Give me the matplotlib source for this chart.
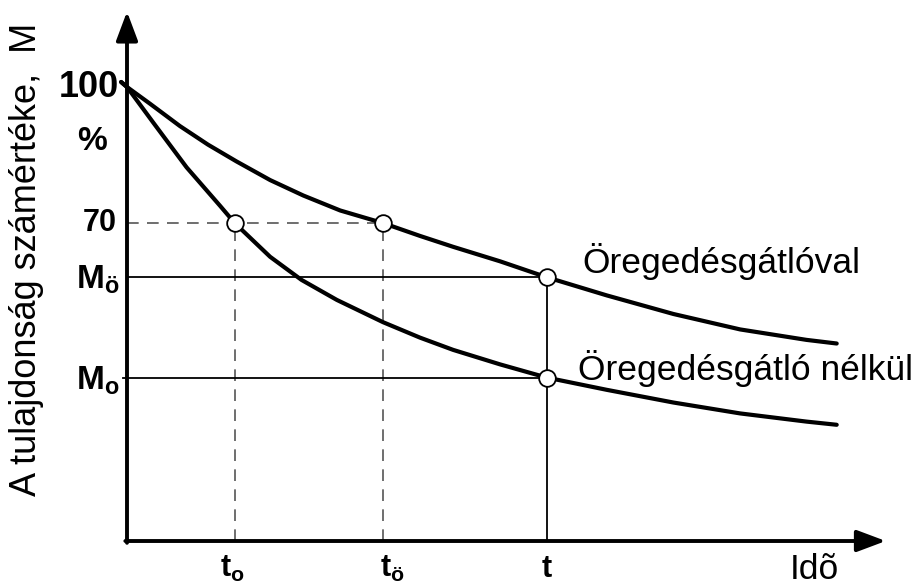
import matplotlib
matplotlib.use('Agg')
import matplotlib.pyplot as plt

plt.rcParams['font.family'] = ['Liberation Sans', 'DejaVu Sans']
plt.rcParams['mathtext.fontset'] = 'custom'
plt.rcParams['mathtext.rm'] = 'Liberation Sans'
plt.rcParams['mathtext.bf'] = 'Liberation Sans:bold'

# idő (tetszőleges egység) és a tulajdonság számértéke M (%)
t_with = [-0.14, 0.0, 0.55, 1.26, 1.93, 2.61, 3.41, 4.20, 5.08, 6.11, 6.98, 7.77,
          8.89, 10.0, 11.43, 13.02, 14.61, 16.19, 16.91]
m_with = [101.1, 100.0, 96.3, 91.4, 87.3, 83.6, 79.5, 76.1, 72.8, 70.0, 67.2, 64.8,
          61.6, 58.1, 54.1, 50.0, 46.6, 44.3, 43.5]
t_without = [-0.14, 0.0, 0.63, 1.42, 2.22, 2.57, 3.41, 4.16, 5.00, 6.10, 6.98, 7.77,
             8.89, 10.0, 11.43, 13.02, 14.61, 16.19, 16.91]
m_without = [101.1, 100.0, 92.1, 82.3, 73.8, 70.0, 62.6, 57.5, 53.1, 48.2, 44.8, 42.1,
             38.9, 36.0, 33.3, 30.5, 28.1, 26.3, 25.6]

t_o, t_oe, t_now = 2.57, 6.11, 10.0
m_ref = 70
m_oe, m_o = 58.1, 36.0

fig = plt.figure(figsize=(9.19, 5.85), dpi=100)
ax = fig.add_axes([0, 0, 1, 1])
ax.set_xlim(-3.026, 18.871)
ax.set_ylim(-9.69, 119.16)
ax.axis('off')

# tengelyek nyíllal
arrow = dict(arrowstyle='-|>,head_length=0.8,head_width=0.3', lw=2.8, color='black',
             mutation_scale=22, shrinkA=0, shrinkB=0)
ax.annotate('', xy=(0, 116.6), xytext=(0, -0.4), arrowprops=arrow)
ax.annotate('', xy=(18.08, 0), xytext=(-0.04, 0), arrowprops=arrow)

# szaggatott segédvonalak
dash = dict(color='#555555', lw=1.2, dashes=(7, 5))
ax.plot([0, t_oe], [m_ref, m_ref], **dash)
ax.plot([t_o, t_o], [0, m_ref], **dash)
ax.plot([t_oe, t_oe], [0, m_ref], **dash)

# folytonos segédvonalak
ax.plot([0, t_now], [m_oe, m_oe], color='black', lw=1.3)
ax.plot([-0.1, t_now], [m_o, m_o], color='black', lw=1.3)
ax.plot([t_now, t_now], [0, m_oe], color='black', lw=1.3)

# görbék
ax.plot(t_with, m_with, color='black', lw=3, solid_capstyle='round', solid_joinstyle='round')
ax.plot(t_without, m_without, color='black', lw=3, solid_capstyle='round', solid_joinstyle='round')

ax.plot([t_o, t_oe, t_now, t_now], [m_ref, m_ref, m_oe, m_o], 'o', ms=12,
        mfc='white', mec='black', mew=1.3, zorder=5)

# feliratok
ax.text(-0.19, 99.9, '100', ha='right', va='center', fontsize=26, fontweight='bold')
ax.text(-0.83, 87.9, '%', ha='center', va='center', fontsize=24, fontweight='bold')
ax.text(-0.24, 70, '70', ha='right', va='center', fontsize=22, fontweight='bold')
ax.text(-0.17, 55.7, r'$\mathbf{M_{ö}}$', ha='right', va='baseline', fontsize=24)
ax.text(-0.17, 33.3, r'$\mathbf{M_{o}}$', ha='right', va='baseline', fontsize=24)
ax.text(2.51, -7.9, r'$\mathbf{t_{o}}$', ha='center', va='baseline', fontsize=22)
ax.text(6.33, -7.9, r'$\mathbf{t_{ö}}$', ha='center', va='baseline', fontsize=22)
ax.text(10.0, -7.9, r'$\mathbf{t}$', ha='center', va='baseline', fontsize=22)
ax.text(15.8, -8.4, 'Idõ', ha='left', va='baseline', fontsize=25.5)

ax.text(10.84, 59.0, 'Öregedésgátlóval', ha='left', va='baseline', fontsize=25.5)
ax.text(10.75, 35.5, 'Öregedésgátló nélkül', ha='left', va='baseline', fontsize=25.5)

ax.text(-2.4, 62.0, 'A tulajdonság számértéke,  M', rotation=90,
        ha='center', va='center', fontsize=26)

fig.savefig('out.png', dpi=100)
